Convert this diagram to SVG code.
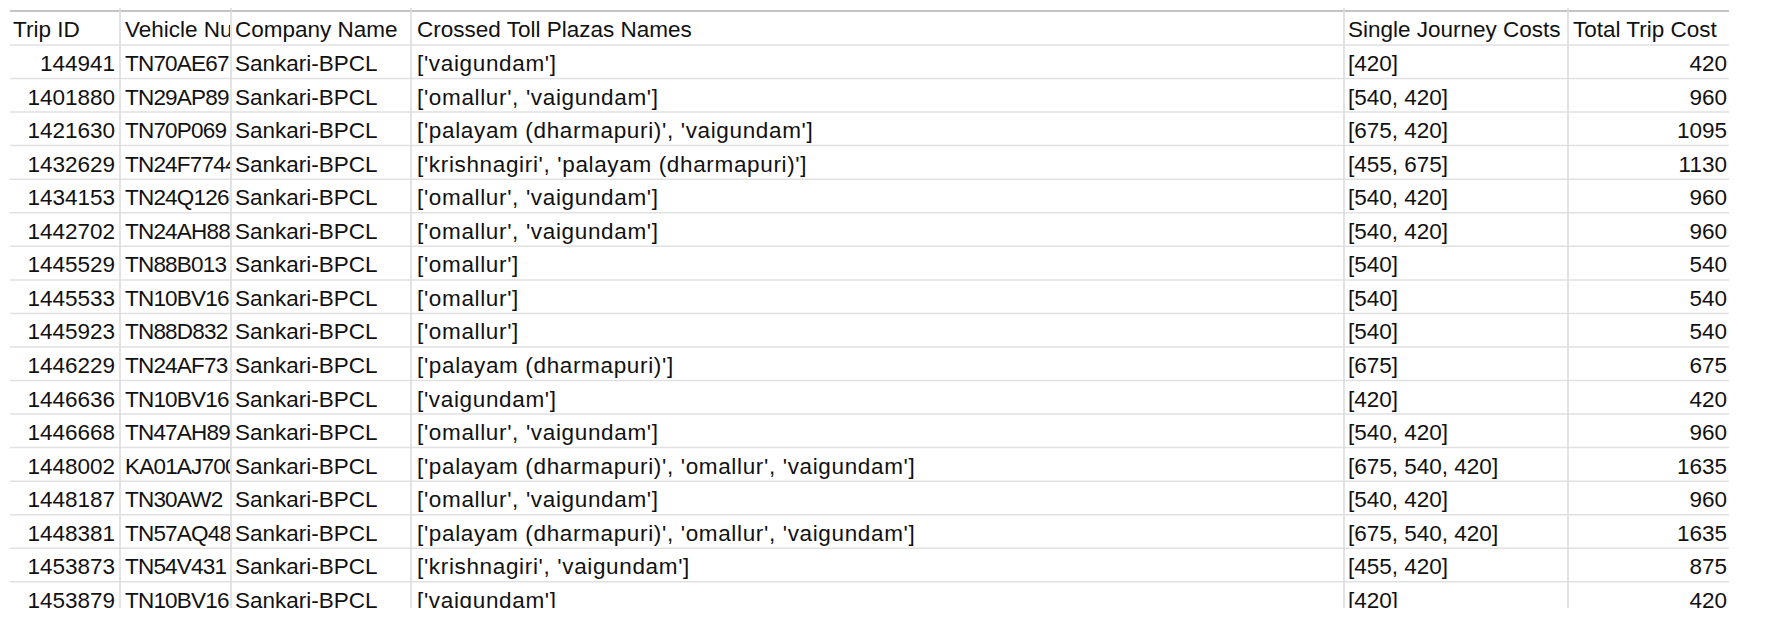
<svg xmlns="http://www.w3.org/2000/svg" width="1765" height="625" viewBox="0 0 1765 625">
<style>
text{font-family:"Liberation Sans",Arial,sans-serif;font-size:22.5px;fill:#111}
.r{text-anchor:end}
.vn{letter-spacing:-0.8px}
.tp{letter-spacing:0.65px}
.g{stroke:#e1e1e1;stroke-width:1.5}
.v{stroke:#dadada;stroke-width:1.5}
</style>
<defs>
<clipPath id="cv"><rect x="120" y="0" width="110" height="625"/></clipPath>
<clipPath id="tb"><rect x="0" y="0" width="1765" height="608"/></clipPath>
</defs>
<rect width="1765" height="625" fill="#fff"/>
<g id="grid" clip-path="url(#tb)">
<line x1="10" y1="11" x2="1729" y2="11" stroke="#c4c4c4" stroke-width="2"/>
<g class="g">
<line x1="10" y1="45" x2="1729" y2="45"/><line x1="10" y1="78.5" x2="1729" y2="78.5"/><line x1="10" y1="112.1" x2="1729" y2="112.1"/><line x1="10" y1="145.6" x2="1729" y2="145.6"/><line x1="10" y1="179.2" x2="1729" y2="179.2"/><line x1="10" y1="212.8" x2="1729" y2="212.8"/><line x1="10" y1="246.3" x2="1729" y2="246.3"/><line x1="10" y1="279.9" x2="1729" y2="279.9"/><line x1="10" y1="313.4" x2="1729" y2="313.4"/><line x1="10" y1="347" x2="1729" y2="347"/><line x1="10" y1="380.5" x2="1729" y2="380.5"/><line x1="10" y1="414" x2="1729" y2="414"/><line x1="10" y1="447.6" x2="1729" y2="447.6"/><line x1="10" y1="481.2" x2="1729" y2="481.2"/><line x1="10" y1="514.7" x2="1729" y2="514.7"/><line x1="10" y1="548.2" x2="1729" y2="548.2"/><line x1="10" y1="581.8" x2="1729" y2="581.8"/>
</g>
<g class="v">
<line x1="120" y1="8" x2="120" y2="608"/><line x1="231" y1="8" x2="231" y2="608"/><line x1="411" y1="8" x2="411" y2="608"/><line x1="1344" y1="8" x2="1344" y2="608"/><line x1="1568" y1="8" x2="1568" y2="608"/>
</g>
</g>
<g id="table" clip-path="url(#tb)">
<g id="header">
<text x="13" y="37">Trip ID</text>
<text x="125" y="37" clip-path="url(#cv)">Vehicle Nu</text>
<text x="235" y="37">Company Name</text>
<text x="417" y="37">Crossed Toll Plazas Names</text>
<text x="1348" y="37">Single Journey Costs</text>
<text x="1573" y="37">Total Trip Cost</text>
</g>
<g id="row1"><text class="r" x="115" y="71">144941</text><text class="vn" x="125" y="71" clip-path="url(#cv)">TN70AE67</text><text x="235" y="71">Sankari-BPCL</text><text class="tp" x="417" y="71">['vaigundam']</text><text x="1348" y="71">[420]</text><text class="r" x="1727" y="71">420</text></g>
<g id="row2"><text class="r" x="115" y="104.6">1401880</text><text class="vn" x="125" y="104.6" clip-path="url(#cv)">TN29AP89</text><text x="235" y="104.6">Sankari-BPCL</text><text class="tp" x="417" y="104.6">['omallur', 'vaigundam']</text><text x="1348" y="104.6">[540, 420]</text><text class="r" x="1727" y="104.6">960</text></g>
<g id="row3"><text class="r" x="115" y="138.1">1421630</text><text class="vn" x="125" y="138.1" clip-path="url(#cv)">TN70P069</text><text x="235" y="138.1">Sankari-BPCL</text><text class="tp" x="417" y="138.1">['palayam (dharmapuri)', 'vaigundam']</text><text x="1348" y="138.1">[675, 420]</text><text class="r" x="1727" y="138.1">1095</text></g>
<g id="row4"><text class="r" x="115" y="171.7">1432629</text><text class="vn" x="125" y="171.7" clip-path="url(#cv)">TN24F7744</text><text x="235" y="171.7">Sankari-BPCL</text><text class="tp" x="417" y="171.7">['krishnagiri', 'palayam (dharmapuri)']</text><text x="1348" y="171.7">[455, 675]</text><text class="r" x="1727" y="171.7">1130</text></g>
<g id="row5"><text class="r" x="115" y="205.2">1434153</text><text class="vn" x="125" y="205.2" clip-path="url(#cv)">TN24Q1266</text><text x="235" y="205.2">Sankari-BPCL</text><text class="tp" x="417" y="205.2">['omallur', 'vaigundam']</text><text x="1348" y="205.2">[540, 420]</text><text class="r" x="1727" y="205.2">960</text></g>
<g id="row6"><text class="r" x="115" y="238.8">1442702</text><text class="vn" x="125" y="238.8" clip-path="url(#cv)">TN24AH88</text><text x="235" y="238.8">Sankari-BPCL</text><text class="tp" x="417" y="238.8">['omallur', 'vaigundam']</text><text x="1348" y="238.8">[540, 420]</text><text class="r" x="1727" y="238.8">960</text></g>
<g id="row7"><text class="r" x="115" y="272.3">1445529</text><text class="vn" x="125" y="272.3" clip-path="url(#cv)">TN88B013</text><text x="235" y="272.3">Sankari-BPCL</text><text class="tp" x="417" y="272.3">['omallur']</text><text x="1348" y="272.3">[540]</text><text class="r" x="1727" y="272.3">540</text></g>
<g id="row8"><text class="r" x="115" y="305.9">1445533</text><text class="vn" x="125" y="305.9" clip-path="url(#cv)">TN10BV16</text><text x="235" y="305.9">Sankari-BPCL</text><text class="tp" x="417" y="305.9">['omallur']</text><text x="1348" y="305.9">[540]</text><text class="r" x="1727" y="305.9">540</text></g>
<g id="row9"><text class="r" x="115" y="339.4">1445923</text><text class="vn" x="125" y="339.4" clip-path="url(#cv)">TN88D832</text><text x="235" y="339.4">Sankari-BPCL</text><text class="tp" x="417" y="339.4">['omallur']</text><text x="1348" y="339.4">[540]</text><text class="r" x="1727" y="339.4">540</text></g>
<g id="row10"><text class="r" x="115" y="373">1446229</text><text class="vn" x="125" y="373" clip-path="url(#cv)">TN24AF73</text><text x="235" y="373">Sankari-BPCL</text><text class="tp" x="417" y="373">['palayam (dharmapuri)']</text><text x="1348" y="373">[675]</text><text class="r" x="1727" y="373">675</text></g>
<g id="row11"><text class="r" x="115" y="406.5">1446636</text><text class="vn" x="125" y="406.5" clip-path="url(#cv)">TN10BV16</text><text x="235" y="406.5">Sankari-BPCL</text><text class="tp" x="417" y="406.5">['vaigundam']</text><text x="1348" y="406.5">[420]</text><text class="r" x="1727" y="406.5">420</text></g>
<g id="row12"><text class="r" x="115" y="440">1446668</text><text class="vn" x="125" y="440" clip-path="url(#cv)">TN47AH89</text><text x="235" y="440">Sankari-BPCL</text><text class="tp" x="417" y="440">['omallur', 'vaigundam']</text><text x="1348" y="440">[540, 420]</text><text class="r" x="1727" y="440">960</text></g>
<g id="row13"><text class="r" x="115" y="473.6">1448002</text><text class="vn" x="125" y="473.6" clip-path="url(#cv)">KA01AJ700</text><text x="235" y="473.6">Sankari-BPCL</text><text class="tp" x="417" y="473.6">['palayam (dharmapuri)', 'omallur', 'vaigundam']</text><text x="1348" y="473.6">[675, 540, 420]</text><text class="r" x="1727" y="473.6">1635</text></g>
<g id="row14"><text class="r" x="115" y="507.2">1448187</text><text class="vn" x="125" y="507.2" clip-path="url(#cv)">TN30AW2</text><text x="235" y="507.2">Sankari-BPCL</text><text class="tp" x="417" y="507.2">['omallur', 'vaigundam']</text><text x="1348" y="507.2">[540, 420]</text><text class="r" x="1727" y="507.2">960</text></g>
<g id="row15"><text class="r" x="115" y="540.7">1448381</text><text class="vn" x="125" y="540.7" clip-path="url(#cv)">TN57AQ48</text><text x="235" y="540.7">Sankari-BPCL</text><text class="tp" x="417" y="540.7">['palayam (dharmapuri)', 'omallur', 'vaigundam']</text><text x="1348" y="540.7">[675, 540, 420]</text><text class="r" x="1727" y="540.7">1635</text></g>
<g id="row16"><text class="r" x="115" y="574.2">1453873</text><text class="vn" x="125" y="574.2" clip-path="url(#cv)">TN54V431</text><text x="235" y="574.2">Sankari-BPCL</text><text class="tp" x="417" y="574.2">['krishnagiri', 'vaigundam']</text><text x="1348" y="574.2">[455, 420]</text><text class="r" x="1727" y="574.2">875</text></g>
<g id="row17"><text class="r" x="115" y="607.8">1453879</text><text class="vn" x="125" y="607.8" clip-path="url(#cv)">TN10BV16</text><text x="235" y="607.8">Sankari-BPCL</text><text class="tp" x="417" y="607.8">['vaigundam']</text><text x="1348" y="607.8">[420]</text><text class="r" x="1727" y="607.8">420</text></g>
</g>
</svg>
